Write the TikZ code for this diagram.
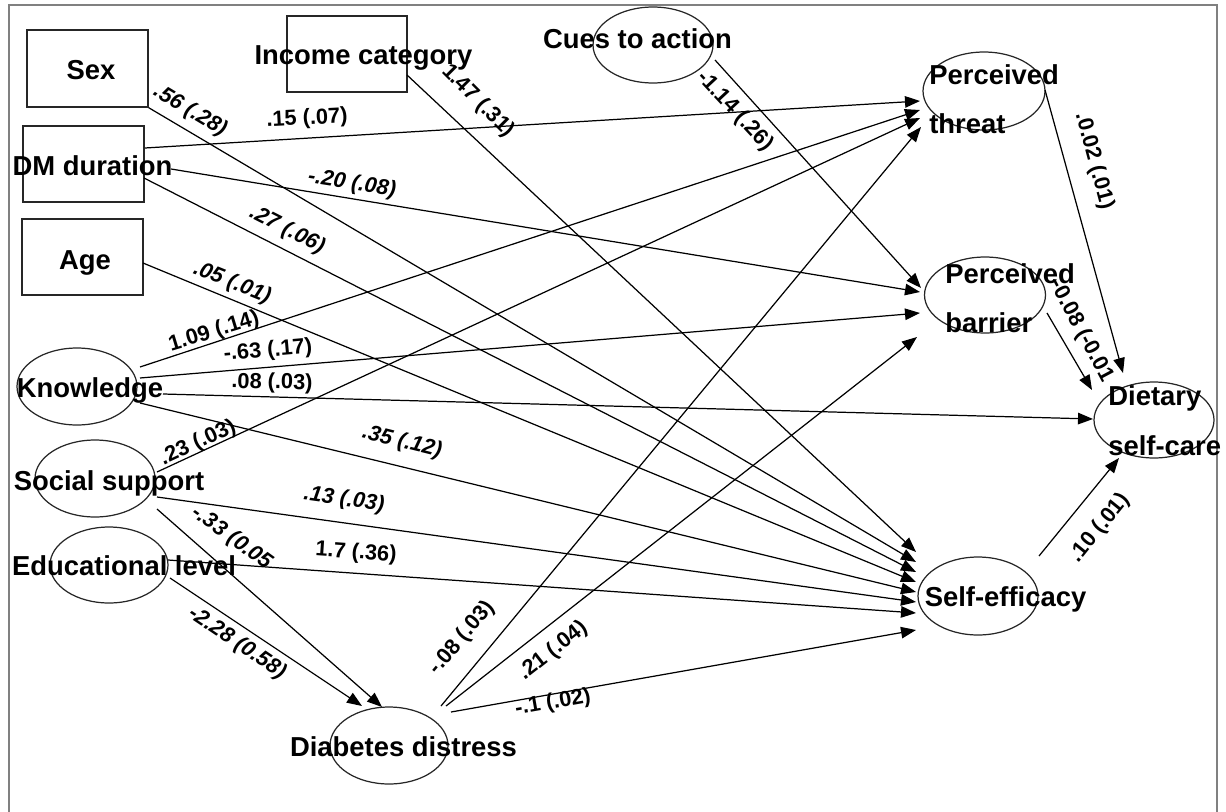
\documentclass[tikz,border=0pt]{standalone}
\usepackage{fontspec}
\setmainfont{Liberation Sans}
\usetikzlibrary{arrows.meta,shapes.geometric,calc}
\begin{document}
\begin{tikzpicture}[x=0.02cm,y=-0.02cm,
  box/.style={draw=black!85,line width=0.8pt,rectangle,inner sep=0pt},
  oval/.style={draw=black!85,line width=0.7pt,ellipse,inner sep=0pt},
  txt/.style={inner sep=0pt,anchor=base,font=\fontsize{15.6}{18}\selectfont\bfseries},
  txtw/.style={txt,anchor=base west},
  lab/.style={inner sep=0pt,font=\fontsize{12.4}{14}\selectfont\bfseries},
  labi/.style={inner sep=0pt,font=\fontsize{12.4}{14}\selectfont\bfseries\itshape},
  arr/.style={draw=black,line width=0.7pt,-{Triangle[length=0.30cm,width=0.23cm]}},
  frame/.style={draw=black!50,line width=1.3pt}
]
\useasboundingbox (0,0) rectangle (1226,811);
\draw[frame] (9,840) -- (9,5) -- (1217,5) -- (1217,840);

% shapes
\node[box,minimum width=2.42cm,minimum height=1.54cm] (sex) at (87.5,68.5) {};
\node[box,minimum width=2.40cm,minimum height=1.52cm] (inc) at (347,54) {};
\node[box,minimum width=2.42cm,minimum height=1.52cm] (dm) at (83.5,164) {};
\node[box,minimum width=2.42cm,minimum height=1.52cm] (age) at (82.5,257) {};
\node[oval,minimum width=2.40cm,minimum height=1.52cm] (cues) at (653,45) {};
\node[oval,minimum width=2.40cm,minimum height=1.54cm] (know) at (77,386.5) {};
\node[oval,minimum width=2.40cm,minimum height=1.54cm] (soc) at (95,478.5) {};
\node[oval,minimum width=2.36cm,minimum height=1.52cm] (edu) at (109,565) {};
\node[oval,minimum width=2.36cm,minimum height=1.54cm] (dist) at (389,745.5) {};
\node[oval,minimum width=2.44cm,minimum height=1.56cm] (threat) at (984,91) {};
\node[oval,minimum width=2.42cm,minimum height=1.52cm] (barrier) at (985,295) {};
\node[oval,minimum width=2.40cm,minimum height=1.52cm] (diet) at (1154,420) {};
\node[oval,minimum width=2.40cm,minimum height=1.56cm] (se) at (978,596) {};

% connectors
\draw[arr] (sex.south east) -- ($(se.center)+(-62,-34)$);
\draw[arr] ($(inc.center)+(60,21)$) -- ($(se.center)+(-62,-44)$);
\draw[arr] ($(cues.center)+(62,15)$) -- ($(barrier.center)+(-64,-7)$);
\draw[arr] ($(dm.center)+(61.5,-16)$) -- ($(threat.center)+(-64,10)$);
\draw[arr] ($(dm.center)+(87.5,5)$) -- ($(barrier.center)+(-65,-3)$);
\draw[arr] ($(dm.center)+(60.5,14)$) -- ($(se.center)+(-62,-24)$);
\draw[arr] ($(age.center)+(60.5,6)$) -- ($(se.center)+(-62,-14)$);
\draw[arr] ($(know.center)+(63,-19.5)$) -- ($(threat.center)+(-64,19)$);
\draw[arr] ($(know.center)+(63,-8.5)$) -- ($(barrier.center)+(-65,18)$);
\draw[arr] ($(know.center)+(86,7.5)$) -- ($(diet.center)+(-61,-1)$);
\draw[arr] ($(know.center)+(63,16.5)$) -- ($(se.center)+(-62,-4)$);
\draw[arr] ($(soc.center)+(62,-6.5)$) -- ($(threat.center)+(-64,27)$);
\draw[arr] ($(soc.center)+(62,18.5)$) -- ($(se.center)+(-62,6)$);
\draw[arr] ($(soc.center)+(62,30.5)$) -- ($(dist.center)+(-7,-38.5)$);
\draw[arr] ($(edu.center)+(59,-5)$) -- ($(se.center)+(-62,17)$);
\draw[arr] ($(edu.center)+(61,13)$) -- ($(dist.center)+(-27,-39.5)$);
\draw[arr] ($(dist.center)+(52,-39.5)$) -- ($(threat.center)+(-63,36)$);
\draw[arr] ($(dist.center)+(57,-39.5)$) -- ($(barrier.center)+(-68,42)$);
\draw[arr] ($(dist.center)+(62,-33.5)$) -- ($(se.center)+(-62,34)$);
\draw[arr] ($(threat.center)+(61,-1)$) -- ($(diet.center)+(-31,-47)$);
\draw[arr] ($(barrier.center)+(62,18)$) -- ($(diet.center)+(-62,-30)$);
\draw[arr] ($(se.center)+(61,-40)$) -- ($(diet.center)+(-35,38)$);

% node texts
\node[txt] (sext) at (91,80) {Sex};
\node[txt] (inct) at (363.5,65) {Income category};
\node[txt] (dmt) at (92.5,175) {DM duration};
\node[txt] (aget) at (85,269) {Age};
\node[txt] (cuest) at (637.5,49) {Cues to action};
\node[txt] (knowt) at (90,397) {Knowledge};
\node[txt] (soct) at (109,490) {Social support};
\node[txt] (edut) at (124,575) {Educational level};
\node[txt] (distt) at (403.5,756) {Diabetes distress};
\node[txtw] (threatta) at (929,85) {Perceived};
\node[txtw] (threattb) at (929,133) {threat};
\node[txtw] (barrierta) at (945,283) {Perceived};
\node[txtw] (barriertb) at (945,332) {barrier};
\node[txtw] (dietta) at (1108,405) {Dietary};
\node[txtw] (diettb) at (1108,455) {self-care};
\node[txt] (set) at (1005.5,606) {Self-efficacy};

% path labels
\node[labi,rotate=-31] (l1) at (190,111) {.56 (.28)};
\node[lab,rotate=-45] (l2) at (478,101) {1.47 (.31)};
\node[lab,rotate=-47] (l3) at (735,111) {-1.14 (.26)};
\node[lab,rotate=3] (l4) at (307,119) {.15 (.07)};
\node[labi,rotate=-9] (l5) at (352,184) {-.20 (.08)};
\node[labi,rotate=-27] (l6) at (287,230) {.27 (.06)};
\node[labi,rotate=-22] (l7) at (232,283) {.05 (.01)};
\node[lab,rotate=17] (l8) at (214,332) {1.09 (.14)};
\node[lab,rotate=5] (l9) at (268,351) {-.63 (.17)};
\node[lab,rotate=-1] (l10) at (272,383) {.08 (.03)};
\node[labi,rotate=-14] (l11) at (402,442) {.35 (.12)};
\node[lab,rotate=25] (l12) at (198,443) {.23 (.03)};
\node[labi,rotate=-8] (l13) at (344,500) {.13 (.03)};
\node[labi,rotate=-36] (l14) at (232,538) {-.33 (0.05};
\node[lab,rotate=-4] (l15) at (356,553) {1.7 (.36)};
\node[labi,rotate=-34] (l16) at (237,643) {-2.28 (0.58)};
\node[lab,rotate=50] (l17) at (462,638) {-.08 (.03)};
\node[lab,rotate=38] (l18) at (553,651) {.21 (.04)};
\node[lab,rotate=10] (l19) at (553,703) {-.1 (.02)};
\node[lab,rotate=-75] (l20) at (1094,161) {.0.02 (.01)};
\node[lab,rotate=-62] (l21) at (1081,331) {-0.08 (-0.01};
\node[lab,rotate=51] (l22) at (1100,528) {.10 (.01)};
\end{tikzpicture}
\end{document}
